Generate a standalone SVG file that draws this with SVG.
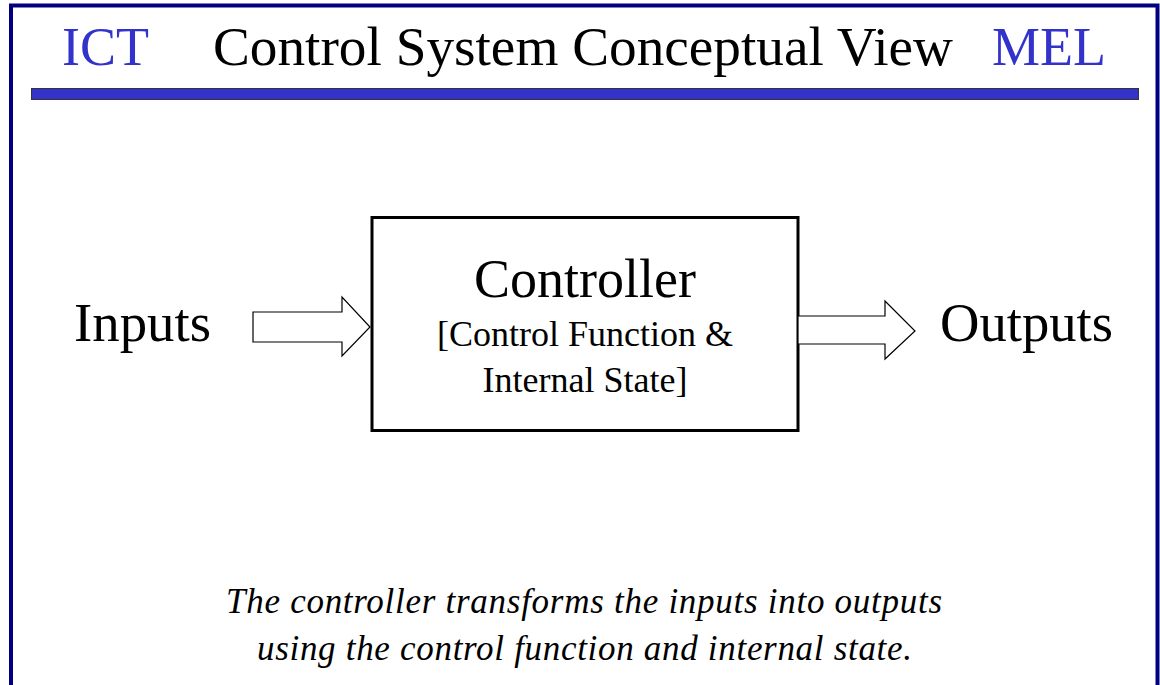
<svg xmlns="http://www.w3.org/2000/svg" width="1160" height="685" viewBox="0 0 1160 685" font-family="'Liberation Serif','Times New Roman',serif">
<style>
text{font-family:"Liberation Serif","Times New Roman",serif;}
.blue{fill:#3333CC;}
.blk{fill:#000;}
.arrow{fill:#fff;stroke:#000;stroke-width:1.2;stroke-linejoin:miter;}
</style>
<rect width="1160" height="685" fill="#fff"/>
<g id="frame">
<path d="M11 685 V5.5 H1157.5 V685" fill="none" stroke="#000080" stroke-width="4"/>
</g>
<g id="header">
<text class="blue" x="62" y="65" font-size="54">ICT</text>
<text class="blk" x="213" y="65" font-size="54" textLength="740" lengthAdjust="spacingAndGlyphs">Control System Conceptual View</text>
<text class="blue" x="992" y="65" font-size="54">MEL</text>
<rect x="31.5" y="88.5" width="1107" height="11" fill="#3333CC" stroke="#333" stroke-width="1"/>
</g>
<g id="inputs">
<text class="blk" x="74" y="341" font-size="54" textLength="137" lengthAdjust="spacingAndGlyphs">Inputs</text>
</g>
<g id="controller">
<rect x="372" y="217.5" width="426" height="213" fill="#fff" stroke="#000" stroke-width="3"/>
<text class="blk" x="585" y="297" font-size="54" text-anchor="middle">Controller</text>
<text class="blk" x="585" y="346" font-size="36" text-anchor="middle">[Control Function &amp;</text>
<text class="blk" x="585" y="392" font-size="36" text-anchor="middle">Internal State]</text>
</g>
<g id="outputs">
<text class="blk" x="940" y="341" font-size="54" textLength="173" lengthAdjust="spacingAndGlyphs">Outputs</text>
</g>
<g id="connectors">
<polygon class="arrow" points="253,312 342,312 342,297 370,327 342,356 342,342 253,342"/>
<polygon class="arrow" points="798,316 885,316 885,301 915,331 885,359 885,344 798,344"/>
</g>
<g id="caption">
<text class="blk" x="226" y="613" font-size="35" font-style="italic" textLength="716" lengthAdjust="spacing">The controller transforms the inputs into outputs</text>
<text class="blk" x="257" y="660" font-size="35" font-style="italic" textLength="655" lengthAdjust="spacing">using the control function and internal state.</text>
</g>
</svg>
